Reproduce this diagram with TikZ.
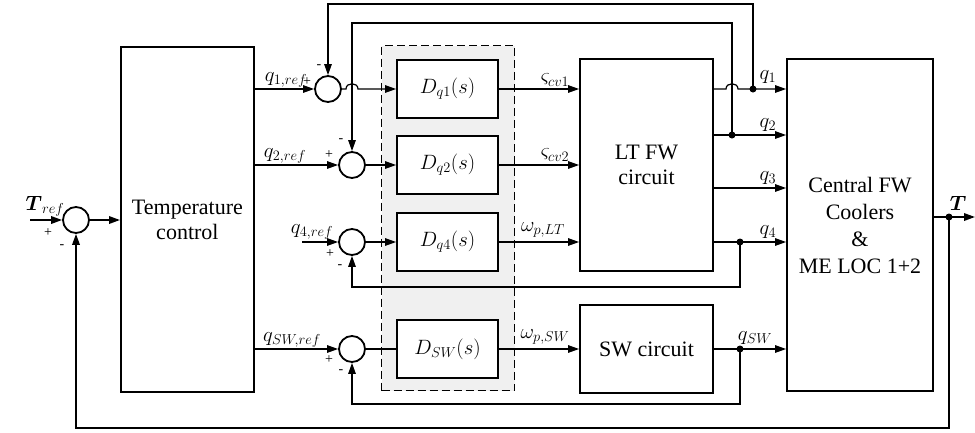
\documentclass[tikz,border=0pt]{standalone}
\usepackage{amsmath}
\usepackage{fontspec}
\setmainfont{Liberation Serif}
\usetikzlibrary{arrows.meta,calc}
\begin{document}
\begin{tikzpicture}[x=1pt,y=-1pt,
  font=\fontsize{22}{25}\selectfont,
  box/.style={draw,line width=1.8pt,fill=white,align=center,inner sep=0pt},
  sumnode/.style={draw,circle,line width=1.8pt,minimum size=26pt,inner sep=0pt},
  conn/.style={line width=1.2pt},
  arr/.style={conn,-{Triangle[length=11pt,width=7.5pt]}},
  thickarr/.style={line width=1.8pt,-{Triangle[length=11pt,width=7.5pt]}},
  lbl/.style={inner sep=0pt,font=\fontsize{22}{24}\selectfont},
  sgn/.style={inner sep=0pt,font=\fontsize{14}{16}\selectfont},
  dot/.style={circle,fill,inner sep=0pt,minimum size=7pt}]
\useasboundingbox (0,0) rectangle (975,432);

% dashed controller region
\node[draw,dash pattern=on 8pt off 4pt,line width=1pt,fill=black!6,minimum width=133pt,minimum height=345pt,anchor=north west,inner sep=0pt] (ctrl) at (381,45) {};

% blocks
\node[box,minimum width=133pt,minimum height=345pt,anchor=north west] (tc) at (120,46) {Temperature\\control};
\node[box,minimum width=101pt,minimum height=58pt] (dq1) at (447.5,89) {$D_{q1}(s)$};
\node[box,minimum width=101pt,minimum height=58pt] (dq2) at (447.5,165) {$D_{q2}(s)$};
\node[box,minimum width=101pt,minimum height=58pt] (dq4) at (447.5,242) {$D_{q4}(s)$};
\node[box,minimum width=101pt,minimum height=58pt] (dsw) at (447.5,349) {$D_{SW}(s)$};
\node[box,minimum width=133pt,minimum height=212pt] (lt) at (646.5,165) {LT FW\\circuit};
\node[box,minimum width=133pt,minimum height=88pt] (sw) at (646.5,349) {SW circuit};
\node[box,minimum width=146pt,minimum height=332pt,font=\fontsize{22}{27}\selectfont] (cc) at (860,225) {Central FW\\Coolers\\\&\\ME LOC 1+2};

% summing junctions
\node[sumnode] (s0) at (76,220) {};
\node[sumnode] (s1) at (328,89) {};
\node[sumnode] (s2) at (352,165) {};
\node[sumnode] (s4) at (352,242) {};
\node[sumnode] (ssw) at (352,349) {};

% coordinates
\coordinate (tin) at (30,220);
\coordinate (q4in) at (302,242);
\coordinate (tout) at (975,217);
\coordinate (p1) at (753,89);
\coordinate (p2) at (732,135);
\coordinate (p4) at (740,242);
\coordinate (psw) at (740,349);
\coordinate (pT) at (949,217);

% main forward path
\draw[thickarr] (tin) -- (s0.west);
\draw[thickarr] (s0.east) -- (tc.west |- s0);
\draw[arr] (tc.east |- s1) -- (s1.west);
\draw[arr] (tc.east |- s2) -- (s2.west);
\draw[arr] (q4in) -- (s4.west);
\draw[arr] (tc.east |- ssw) -- (ssw.west);

\draw[arr] (s1.east) -- (346,89) .. controls (346,82) and (358,82) .. (358,89) -- (dq1.west);
\draw[arr] (s2.east) -- (dq2.west);
\draw[arr] (s4.east) -- (dq4.west);
\draw[conn] (ssw.east) -- (dsw.west);

\draw[arr] (dq1.east) -- (lt.west |- dq1);
\draw[arr] (dq2.east) -- (lt.west |- dq2);
\draw[arr] (dq4.east) -- (lt.west |- dq4);
\draw[arr] (dsw.east) -- (sw.west);

\draw[arr] (lt.east |- p1) -- (726,89) .. controls (726,82) and (738,82) .. (738,89) -- (cc.west |- p1);
\draw[arr] (lt.east |- p2) -- (cc.west |- p2);
\draw[arr] (lt.east |- 0,188) -- (cc.west |- 0,188);
\draw[arr] (lt.east |- p4) -- (cc.west |- p4);
\draw[arr] (sw.east) -- (cc.west |- sw);
\draw[thickarr] (cc.east |- tout) -- (tout);

% feedback paths
\draw[arr] (p1) -- (p1 |- 0,4) -| (s1.north);
\draw[arr] (p2) -- (p2 |- 0,23) -| (s2.north);
\draw[arr] (p4) -- (p4 |- 0,287) -| (s4.south);
\draw[arr] (psw) -- (psw |- 0,404) -| (ssw.south);
\draw[thickarr] (pT) -- (pT |- 0,428) -| (s0.south);

% dots
\foreach \p in {p1,p2,p4,psw,pT} \node[dot] at (\p) {};

% labels
\node[lbl] at (45,206) {$\boldsymbol{T}_{ref}$};
\node[sgn] at (48,233) {+};
\node[sgn] at (62,247) {-};
\node[lbl] at (286,80) {$q_{1,ref}$};
\node[sgn] at (307,82) {+};
\node[sgn] at (319,67) {-};
\node[lbl] at (285,156) {$q_{2,ref}$};
\node[sgn] at (329,155) {+};
\node[sgn] at (341,141) {-};
\node[lbl] at (312,232) {$q_{4,ref}$};
\node[sgn] at (330,254) {+};
\node[sgn] at (340,267) {-};
\node[lbl] at (292,340) {$q_{SW,ref}$};
\node[sgn] at (329,360) {+};
\node[sgn] at (341,372) {-};
\node[lbl] at (555,80) {$\varsigma_{cv1}$};
\node[lbl] at (555,155) {$\varsigma_{cv2}$};
\node[lbl] at (543,230) {$\omega_{p,LT}$};
\node[lbl] at (545,337) {$\omega_{p,SW}$};
\node[lbl] at (768,77) {$q_1$};
\node[lbl] at (768,125) {$q_2$};
\node[lbl] at (768,178) {$q_3$};
\node[lbl] at (768,232) {$q_4$};
\node[lbl] at (755,338) {$q_{SW}$};
\node[lbl] at (958,203) {$\boldsymbol{T}$};
\end{tikzpicture}
\end{document}
